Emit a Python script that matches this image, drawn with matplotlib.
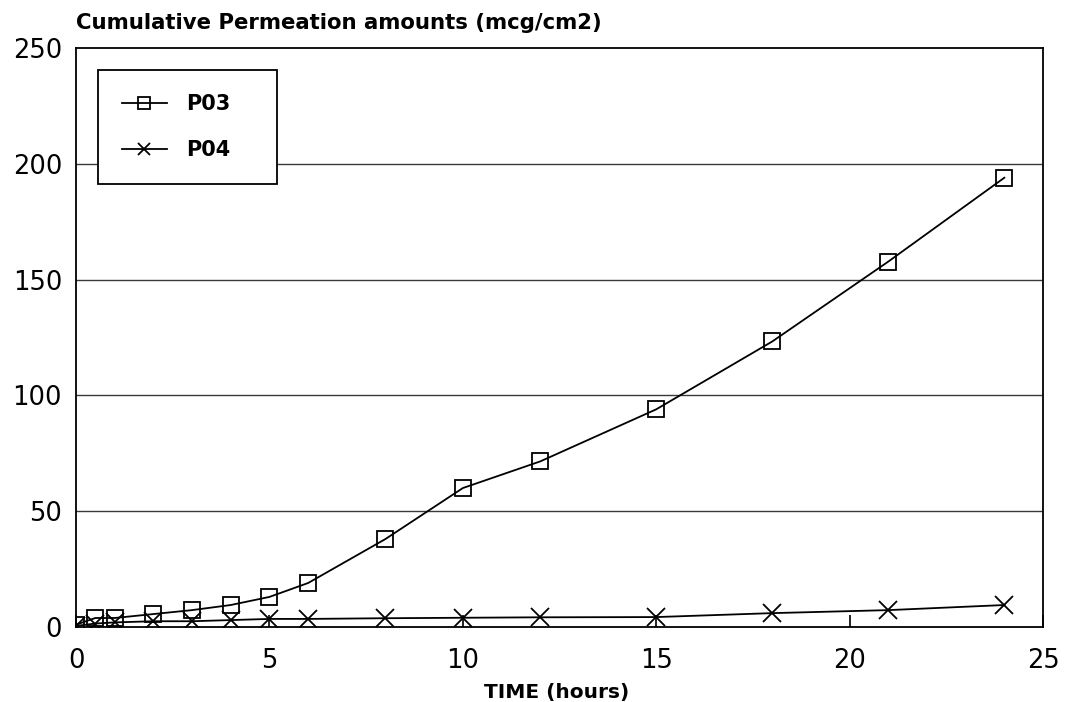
import numpy as np
import matplotlib
matplotlib.use("Agg")
import matplotlib.pyplot as plt
from matplotlib import rcParams

rcParams['font.family'] = ['DejaVu Sans']

# sampling times (hours)
hours = [0, 0.5, 1, 2, 3, 4, 5, 6, 8, 10, 12, 15, 18, 21, 24]

# cumulative permeation (mcg/cm2)
p03 = [1, 3.9, 3.9, 5.6, 7.3, 9.5, 13, 19, 38, 60, 71.5, 94, 123.3, 157.8, 194]
p04 = [0.5, 1.5, 2, 2.5, 2.5, 3, 3.5, 3.5, 3.8, 4, 4.2, 4.3, 6, 7.3, 9.5]

x_ticks = [0, 5, 10, 15, 20, 25]
y_ticks = [0, 50, 100, 150, 200, 250]

fig = plt.figure(figsize=(10.72, 7.02), dpi=100)
ax = fig.add_axes([0.0709, 0.1068, 0.9021, 0.8248])

# horizontal grid
for y in y_ticks[1:-1]:
    ax.axhline(y, color='#3a3a3a', lw=1.0, zorder=1)

ax.plot(hours, p03, color='black', lw=1.3, marker='s', markersize=12,
        markerfacecolor='none', markeredgecolor='black', markeredgewidth=1.3,
        label='P03', zorder=3)
ax.plot(hours, p04, color='black', lw=1.3, marker='x', markersize=13,
        markeredgewidth=1.3, label='P04', zorder=3)

ax.set_xlim(0, 25)
ax.set_ylim(0, 250)
ax.set_xticks(x_ticks)
ax.set_yticks(y_ticks)
ax.tick_params(axis='x', direction='in', length=9, width=1.2, pad=15,
               labelsize=18.5)
ax.tick_params(axis='y', direction='in', length=0, pad=10, labelsize=18.5)
for s in ax.spines.values():
    s.set_linewidth(1.3)

leg = ax.legend(loc='upper left',
                bbox_to_anchor=(0.0228, 0.962 - 0.193, 0.185, 0.193),
                mode='expand', frameon=True, fancybox=False,
                edgecolor='black', framealpha=1,
                prop={'size': 15, 'weight': 'bold'},
                handlelength=2.15, handletextpad=0.95, borderpad=1.15,
                labelspacing=1.25, borderaxespad=0)
leg.get_frame().set_linewidth(1.3)
for h in leg.legend_handles:
    h.set_markersize(9)

fig.text(0.0709, 0.967, 'Cumulative Permeation amounts (mcg/cm2)',
         fontsize=15.3, fontweight='bold', ha='left', va='center')
fig.text(0.519, 0.014, 'TIME (hours)', fontsize=14.5, fontweight='bold',
         ha='center', va='center')

fig.savefig('out.png', dpi=100)
